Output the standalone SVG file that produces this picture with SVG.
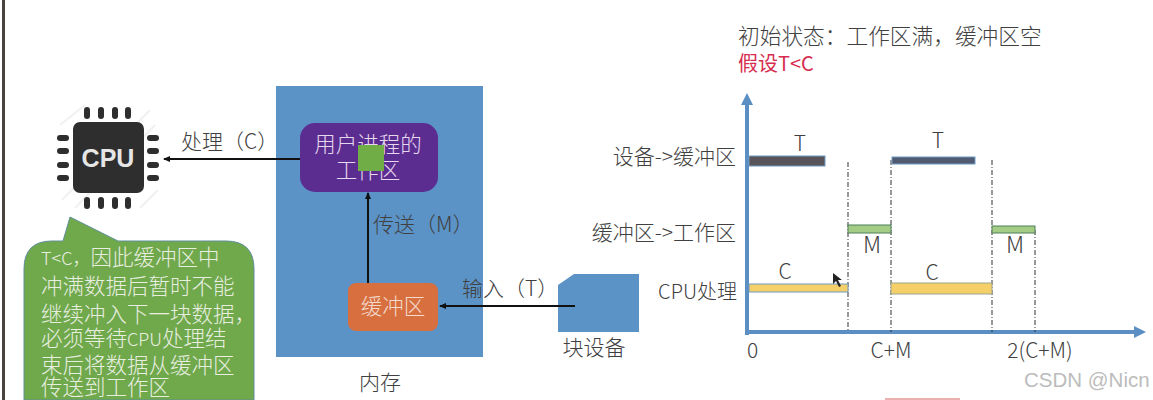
<svg xmlns="http://www.w3.org/2000/svg" width="1153" height="400" viewBox="0 0 1153 400">
<style>
text{font-family:"Noto Sans CJK SC","Liberation Sans",sans-serif;fill:#404040;font-size:21px;font-weight:300}
.w{fill:#e8efe0;font-size:21.5px}
.l{fill:#e6d8ee;font-size:21.5px}
.a{stroke:#111;stroke-width:2;fill:none;marker-end:url(#ah)}
.d{stroke:#333;stroke-width:1;stroke-dasharray:5 2 1 2}
.p{fill:#2e2e2e}
.s{stroke:#6f9ac2;stroke-width:1}
.n{font-size:21px}
</style>
<defs>
<marker id="ah" markerWidth="8" markerHeight="8" refX="6" refY="3" orient="auto" markerUnits="userSpaceOnUse"><path d="M0 0L7 3L0 6Z" fill="#111"/></marker>
<marker id="bh" markerWidth="14" markerHeight="14" refX="2" refY="6" orient="auto" markerUnits="userSpaceOnUse"><path d="M0 0L12 6L0 12Z" fill="#5b8fc4"/></marker>
</defs>
<rect width="1153" height="400" fill="#fff"/>
<rect x="2" width="3" height="400" fill="#4a433f"/>
<g id="cpu">
<path d="M60 125L85 105M62 200L150 110M75 208L155 125M140 208L158 190" stroke="#f1f1f1" stroke-width="2" fill="none"/>
<rect x="73" y="122" width="71" height="71" rx="7" class="p"/>
<g class="p">
<rect x="84" y="107" width="6" height="12" rx="3"/><rect x="98" y="107" width="6" height="12" rx="3"/><rect x="112" y="107" width="6" height="12" rx="3"/><rect x="125" y="107" width="6" height="12" rx="3"/>
<rect x="84" y="197" width="6" height="12" rx="3"/><rect x="98" y="197" width="6" height="12" rx="3"/><rect x="112" y="197" width="6" height="12" rx="3"/><rect x="125" y="197" width="6" height="12" rx="3"/>
<rect x="57" y="135" width="12" height="6" rx="3"/><rect x="57" y="148" width="12" height="6" rx="3"/><rect x="57" y="162" width="12" height="6" rx="3"/><rect x="57" y="175" width="12" height="6" rx="3"/>
<rect x="147" y="135" width="12" height="6" rx="3"/><rect x="147" y="148" width="12" height="6" rx="3"/><rect x="147" y="162" width="12" height="6" rx="3"/><rect x="147" y="175" width="12" height="6" rx="3"/>
</g>
<text x="108" y="167" text-anchor="middle" style="font-family:'Liberation Sans',sans-serif;font-weight:bold;font-size:25px;fill:#e6e6e6">CPU</text>
</g>
<g id="memory">
<rect x="276" y="86" width="207" height="271" fill="#5b93c7"/>
<text x="380" y="390" text-anchor="middle">内存</text>
</g>
<g id="workarea">
<rect x="300" y="123" width="138" height="69" rx="15" fill="#5c2d91"/>
<text class="l" x="368" y="152" text-anchor="middle">用户进程的</text>
<text class="l" x="368" y="178" text-anchor="middle">工作区</text>
<rect x="358" y="145" width="26" height="26" fill="#70ad47"/>
</g>
<g id="buffer">
<rect x="348" y="283" width="90" height="48" rx="8" fill="#d86f3f"/>
<text class="l" x="393" y="314" text-anchor="middle" style="fill:#f3dccf">缓冲区</text>
</g>
<g id="device">
<path d="M574 274H639V332H558V285Z" fill="#5b93c7"/>
<text x="594" y="355" text-anchor="middle">块设备</text>
</g>
<g id="connectors">
<line class="a" x1="300" y1="159" x2="164" y2="159"/>
<line class="a" x1="368" y1="283" x2="368" y2="193"/>
<line class="a" x1="575" y1="306" x2="440" y2="306"/>
</g>
<text x="181" y="149">处理（C）</text>
<text x="373" y="232">传送（M）</text>
<text x="462" y="296">输入（T）</text>
<g id="note">
<path d="M70 217L118 241H226Q254 241 254 269V400H24V269Q24 241 52 241H63Z" fill="#70a84c" stroke="#5f8f9a"/>
<text class="w" x="41" y="265"><tspan style="font-size:18px">T&lt;C，</tspan>因此缓冲区中</text>
<text class="w" x="41" y="294">冲满数据后暂时不能</text>
<text class="w" x="41" y="322">继续冲入下一块数据，</text>
<text class="w" x="41" y="346">必须等待<tspan style="font-size:18px">CPU</tspan>处理结</text>
<text class="w" x="41" y="373">束后将数据从缓冲区</text>
<text class="w" x="41" y="395">传送到工作区</text>
</g>
<g id="chart">
<text x="738" y="44" style="font-size:21.7px">初始状态：工作区满，缓冲区空</text>
<text x="738" y="71" style="font-size:20px;fill:#d62c4f;font-weight:400">假设T&lt;C</text>
<line x1="747" y1="335" x2="747" y2="103" stroke="#5b8fc4" stroke-width="4" marker-end="url(#bh)"/>
<line x1="745" y1="332" x2="1136" y2="332" stroke="#5b8fc4" stroke-width="4" marker-end="url(#bh)"/>
<g>
<line class="d" x1="848" y1="162" x2="848" y2="332"/>
<line class="d" x1="891" y1="160" x2="891" y2="332"/>
<line class="d" x1="992" y1="160" x2="992" y2="332"/>
<line class="d" x1="1035" y1="230" x2="1035" y2="332"/>
</g>
<rect class="s" x="749" y="156" width="76" height="10" fill="#595459"/>
<rect class="s" x="892" y="157" width="83" height="7" fill="#505a70"/>
<rect x="848" y="225" width="43" height="8" fill="#a3cc85" stroke="#4f7f5a"/>
<rect x="992" y="226" width="43" height="7" fill="#a3cc85" stroke="#4f7f5a"/>
<rect class="s" x="749" y="284" width="99" height="8" fill="#f5d068"/>
<rect x="891" y="283" width="101" height="11" fill="#f5d068" stroke="#9aa590"/>
<text x="800" y="151" text-anchor="middle" class="n">T</text>
<text x="938" y="148" text-anchor="middle" class="n">T</text>
<text x="785" y="279" text-anchor="middle" class="n">C</text>
<text x="932" y="280" text-anchor="middle" class="n">C</text>
<text x="872" y="253" text-anchor="middle" style="font-size:23px">M</text>
<text x="1015" y="253" text-anchor="middle" style="font-size:23px">M</text>
<text x="736" y="164" text-anchor="end">设备-&gt;缓冲区</text>
<text x="736" y="240" text-anchor="end">缓冲区-&gt;工作区</text>
<text x="737" y="299" text-anchor="end" style="font-size:20px">CPU处理</text>
<text x="747" y="358" class="n">0</text>
<text x="891" y="358" text-anchor="middle" class="n">C+M</text>
<text x="1040" y="358" text-anchor="middle" class="n">2(C+M)</text>
<path d="M833 273V284L836 281L839 287L841 286L838 280L842 280Z" fill="#222"/>
</g>
<text x="1024" y="387" style="font-family:'Liberation Sans',sans-serif;font-size:20.5px;fill:#bcbcbc;font-weight:400">CSDN @Nicn</text>
<rect x="885" y="398" width="75" height="2" fill="#eab0b0"/>
</svg>
